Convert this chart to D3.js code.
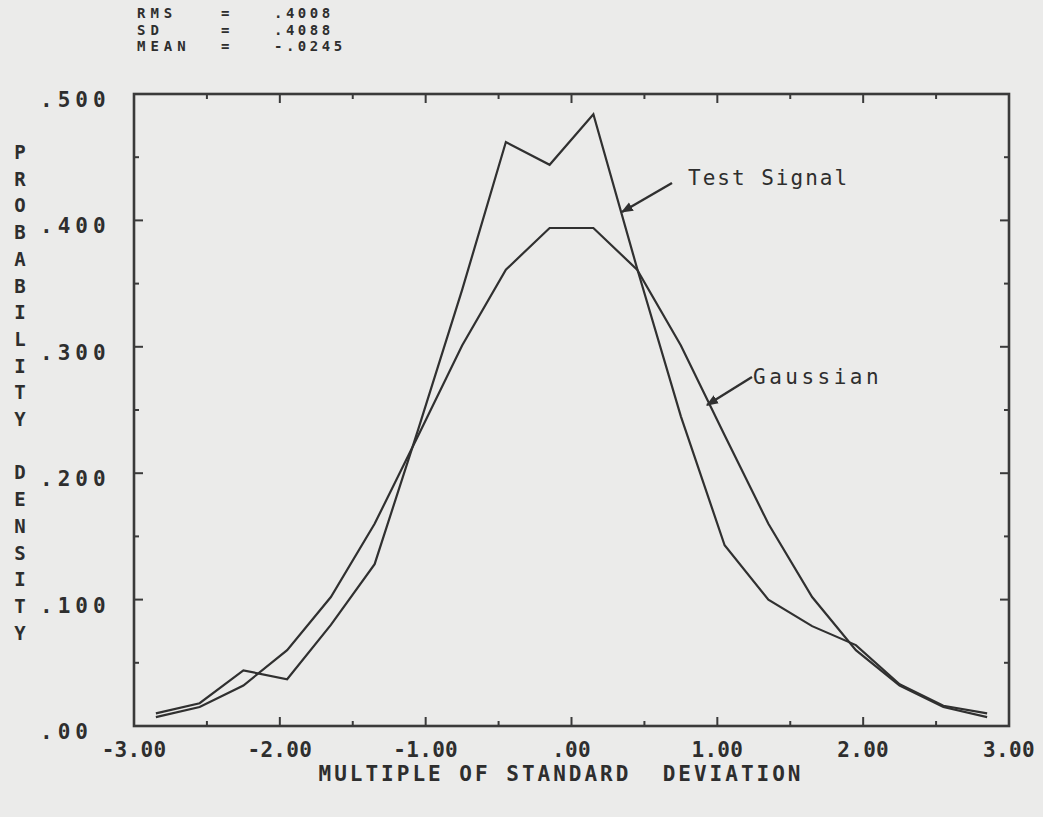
<!DOCTYPE html>
<html>
<head>
<meta charset="utf-8">
<script src="https://cdn.jsdelivr.net/npm/d3@7"></script>
<style>
  html, body { margin: 0; padding: 0; background: #ebebea; }
  svg { display: block; }
  text { font-family: "DejaVu Sans Mono", "Liberation Mono", monospace; fill: #2e2e2e; white-space: pre; }
</style>
</head>
<body>
<svg id="chart" width="1043" height="817"></svg>
<script>
// Bin centres, in multiples of the standard deviation
const binCenters = [-2.85, -2.55, -2.25, -1.95, -1.65, -1.35, -1.05, -0.75, -0.45, -0.15,
                     0.15,  0.45,  0.75,  1.05,  1.35,  1.65,  1.95,  2.25,  2.55,  2.85];
// Measured probability density of the test signal
const testSignal = [0.010, 0.018, 0.044, 0.037, 0.080, 0.128, 0.235, 0.345, 0.462, 0.444,
                    0.484, 0.362, 0.245, 0.143, 0.100, 0.079, 0.064, 0.033, 0.016, 0.010];
// Reference Gaussian density at the same bins
const gaussian = [0.007, 0.015, 0.032, 0.060, 0.102, 0.160, 0.230, 0.301, 0.361, 0.394,
                  0.394, 0.361, 0.301, 0.230, 0.160, 0.102, 0.060, 0.032, 0.015, 0.007];

const xTicks = [-3, -2, -1, 0, 1, 2, 3];
const xTickLabels = ["-3.00", "-2.00", "-1.00", ".00", "1.00", "2.00", "3.00"];
const yTicks = [0, 0.1, 0.2, 0.3, 0.4, 0.5];
const yTickLabels = [".00", ".100", ".200", ".300", ".400", ".500"];
const statNames = ["RMS", "SD", "MEAN"];
const statValues = [".4008", ".4088", "-.0245"];
const yTitleTop = "PROBABILITY";
const yTitleBottom = "DENSITY";
const xTitle = "MULTIPLE OF STANDARD  DEVIATION";

const svg = d3.select("#chart");
const ink = "#303030";

const frame = { left: 134, right: 1009, top: 94, bottom: 726 };
const x = d3.scaleLinear().domain([-3, 3]).range([frame.left, frame.right]);
const y = d3.scaleLinear().domain([0, 0.5]).range([frame.bottom, frame.top]);

// Plot frame
svg.append("rect")
  .attr("x", frame.left).attr("y", frame.top)
  .attr("width", frame.right - frame.left).attr("height", frame.bottom - frame.top)
  .attr("fill", "none").attr("stroke", "#3a3a3a").attr("stroke-width", 2.6);

// Inward ticks on all four sides: majors every unit / 0.1, minors halfway
const xMinor = d3.range(-2.5, 3, 1);
const yMinor = d3.range(0.05, 0.5, 0.1);
const tickG = svg.append("g").attr("stroke", "#3a3a3a").attr("stroke-width", 2);
function xTick(v, len) {
  tickG.append("line").attr("x1", x(v)).attr("x2", x(v)).attr("y1", frame.bottom).attr("y2", frame.bottom - len);
  tickG.append("line").attr("x1", x(v)).attr("x2", x(v)).attr("y1", frame.top).attr("y2", frame.top + len);
}
function yTick(v, len) {
  tickG.append("line").attr("y1", y(v)).attr("y2", y(v)).attr("x1", frame.left).attr("x2", frame.left + len);
  tickG.append("line").attr("y1", y(v)).attr("y2", y(v)).attr("x1", frame.right).attr("x2", frame.right - len);
}
xTicks.slice(1, -1).forEach(v => xTick(v, 9));
xMinor.forEach(v => xTick(v, 5));
yTicks.slice(1, -1).forEach(v => yTick(v, 9));
yMinor.forEach(v => yTick(v, 5));

// Curves
const line = d3.line().x((d, i) => x(binCenters[i])).y(d => y(d));
[gaussian, testSignal].forEach(series => {
  svg.append("path").datum(series).attr("d", line)
    .attr("fill", "none").attr("stroke", ink).attr("stroke-width", 2.2)
    .attr("stroke-linejoin", "miter");
});

// Tick labels
svg.append("g").selectAll("text").data(xTicks).join("text")
  .attr("x", d => x(d)).attr("y", frame.bottom + 31)
  .attr("text-anchor", "middle")
  .style("font-size", "21px").style("font-weight", "bold").style("letter-spacing", "0.3px")
  .text((d, i) => xTickLabels[i]);

svg.append("g").selectAll("text").data(yTicks).join("text")
  .attr("x", 40).attr("y", d => y(d) + 13)
  .style("font-size", "21px").style("font-weight", "bold").style("letter-spacing", "5px")
  .text((d, i) => yTickLabels[i]);

// Axis titles
svg.append("text").attr("x", 561).attr("y", 781).attr("text-anchor", "middle")
  .style("font-size", "21px").style("letter-spacing", "3px").style("font-weight", "bold")
  .text(xTitle);

const yLetters = [...yTitleTop, " ", ...yTitleBottom];
svg.append("g").selectAll("text").data(yLetters).join("text")
  .attr("x", 20).attr("y", (d, i) => 159 + i * 26.7)
  .attr("text-anchor", "middle")
  .style("font-size", "19px").style("font-weight", "bold")
  .text(d => d);

// Summary statistics above the plot
const stats = svg.append("g").style("font-size", "14px").style("font-weight", "bold");
statNames.forEach((name, i) => {
  const ty = 18 + i * 16.5;
  stats.append("text").attr("x", 137).attr("y", ty).style("letter-spacing", "5px").text(name);
  stats.append("text").attr("x", 221).attr("y", ty).text("=");
  stats.append("text").attr("x", 274).attr("y", ty).style("letter-spacing", "3.5px").text(statValues[i]);
});

// Curve annotations with arrows
svg.append("defs").append("marker")
  .attr("id", "head").attr("viewBox", "0 0 10 10").attr("refX", 9).attr("refY", 5)
  .attr("markerWidth", 5).attr("markerHeight", 5).attr("orient", "auto")
  .append("path").attr("d", "M0,1 L10,5 L0,9 Z").attr("fill", ink);

function annotate(label, tx, ty, spacing, fromX, fromY, toX, toY) {
  svg.append("text").attr("x", tx).attr("y", ty)
    .style("font-size", "21px").style("letter-spacing", spacing).text(label);
  svg.append("line").attr("x1", fromX).attr("y1", fromY).attr("x2", toX).attr("y2", toY)
    .attr("stroke", ink).attr("stroke-width", 2.4).attr("marker-end", "url(#head)");
}
annotate("Test Signal", 688, 185, "2px", 672, 183, 622, 212);
annotate("Gaussian", 753, 384, "3.5px", 752, 377, 707, 405);
</script>
</body>
</html>
